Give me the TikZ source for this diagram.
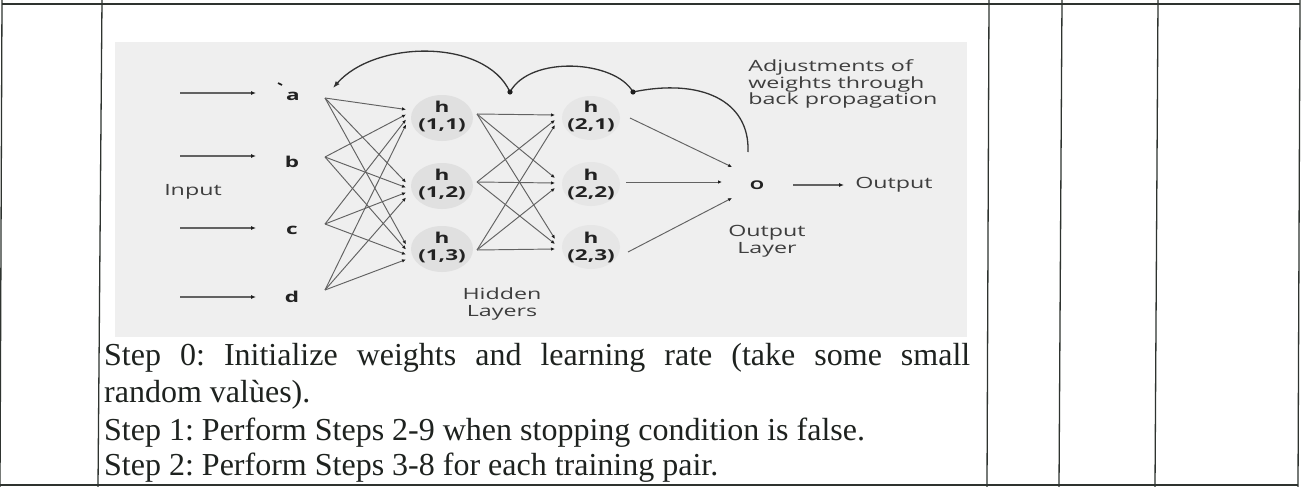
\documentclass[tikz,border=0pt]{standalone}
\usepackage{fontspec}
\setmainfont{Liberation Serif}
\newfontfamily\dsf{Open Sans}
\usetikzlibrary{arrows.meta}
\frenchspacing
\definecolor{bgc}{HTML}{EFEFEF}
\definecolor{circA}{HTML}{E0E0E0}
\definecolor{circB}{HTML}{E6E6E6}
\definecolor{connc}{HTML}{626262}
\definecolor{tipc}{HTML}{1E1E1E}
\definecolor{tblc}{HTML}{2E332F}
\definecolor{stc}{HTML}{1E221F}
\definecolor{dtxt}{HTML}{3E3E3E}
\definecolor{dbtxt}{HTML}{222222}
\definecolor{bpc}{HTML}{333333}
\begin{document}
\begin{tikzpicture}[x=1pt,y=-1pt,
  tbl/.style={draw=tblc, line width=1.3pt},
  conn/.style={draw=connc, line width=0.95pt, -{Latex[length=4pt,width=3.5pt,color=tipc]}},
  inarr/.style={draw=connc, line width=1.1pt, -{Latex[length=5pt,width=4pt,color=tipc]}},
  bp/.style={draw=bpc, line width=1.3pt, -{Latex[length=7pt,width=5pt]}},
  dlab/.style={font=\dsf\fontsize{15.5}{16.5}\selectfont, text=dtxt, inner sep=0pt, xscale=1.5},
  dbold/.style={font=\dsf\bfseries\fontsize{15}{17}\selectfont, text=dbtxt, inner sep=0pt, xscale=1.5},
  steptext/.style={font=\fontsize{32}{37}\selectfont, text=stc, inner sep=0pt, anchor=base west}]
\useasboundingbox (0,0) rectangle (1307,487);
\fill[white] (0,0) rectangle (1307,487);

% figure background
\fill[bgc] (115,42) rectangle (967,337);

% hidden node discs
\foreach \cy in {118,186,249} \fill[circA] (442,\cy) ellipse [x radius=31pt, y radius=23pt];
\foreach \cy in {118,184,247} \fill[circB] (591,\cy) ellipse [x radius=29pt, y radius=22pt];

% input labels
\node[dbold, anchor=base] (a) at (293,100) {a};
\node[dbold, anchor=base] (b) at (292,167) {b};
\node[dbold, anchor=base] (c) at (292,234) {c};
\node[dbold, anchor=base] (d) at (292,302) {d};
\draw[tipc, line width=1.6pt] (278,83) -- (282,85);

% input arrows
\foreach \n/\y in {a/93,b/156,c/228,d/297}{
  \coordinate (it\n) at (180,\y);
  \coordinate (ih\n) at (256,\y);
  \draw[inarr] (it\n) -- (ih\n);
}
\node[dlab] (input) at (193,192) {Input};

% hidden labels
\node[dbold, align=center] (h11) at (442,116) {h\\(1,1)};
\node[dbold, align=center] (h12) at (442,184) {h\\(1,2)};
\node[dbold, align=center] (h13) at (442,247) {h\\(1,3)};
\node[dbold, align=center] (h21) at (591,116) {h\\(2,1)};
\node[dbold, align=center] (h22) at (591,184) {h\\(2,2)};
\node[dbold, align=center] (h23) at (591,247) {h\\(2,3)};
\node[dlab, align=center] (hid) at (502,304) {Hidden\\Layers};

% input -> hidden 1
\foreach \n/\y in {a/98,b/157,c/224,d/290} \coordinate (s\n) at (325,\y);
\foreach \k/\cy in {1/117,2/190,3/252}{
  \foreach \s/\i in {a/0,b/1,c/2,d/3}{
    \pgfmathsetmacro{\py}{\cy+(\i-1.5)*5}
    \coordinate (p\k\s) at (406,\py);
  }
}
\foreach \k in {1,2,3}{\foreach \s in {a,b,c,d}{\draw[conn] (s\s) -- (p\k\s);}}

% hidden 1 -> hidden 2
\foreach \k/\y in {1/114,2/182,3/250} \coordinate (o1\k) at (477,\y);
\foreach \m/\cy in {1/120,2/183,3/244}{
  \foreach \k in {1,2,3}{
    \pgfmathsetmacro{\py}{\cy+(\k-2)*5}
    \coordinate (q\m\k) at (555,\py);
  }
}
\foreach \m in {1,2,3}{\foreach \k in {1,2,3}{\draw[conn] (o1\k) -- (q\m\k);}}

% hidden 2 -> output
\coordinate (o21) at (630,118);
\coordinate (o22) at (626,182);
\coordinate (o23) at (628,252);
\coordinate (r1) at (732,167);
\coordinate (r2) at (722,182);
\coordinate (r3) at (732,198);
\foreach \m in {1,2,3} \draw[conn] (o2\m) -- (r\m);

\node[font=\dsf\bfseries\fontsize{12}{14}\selectfont, text=dbtxt, inner sep=0pt, xscale=1.5] (O) at (757,185) {O};
\coordinate (ot) at (793,185);
\coordinate (oh) at (844,185);
\draw[inarr] (ot) -- (oh);
\node[dlab, anchor=west] (out) at (855,185) {Output};
\node[dlab, align=center] (outl) at (767,241) {Output\\Layer};
\node[dlab, align=left, anchor=west] (adj) at (748,84) {Adjustments of\\weights through\\back propagation};

% back propagation curve
\coordinate (bpO) at (748,152);
\coordinate (bp1) at (633,92);
\coordinate (bp2) at (510,92);
\coordinate (bpA) at (333,88);
\draw[bp] (bpO) .. controls (750,100) and (700,78) .. (bp1)
  .. controls (615,60) and (530,55) .. (bp2)
  .. controls (485,38) and (375,40) .. (bpA);
\fill[tipc] (bp1) circle (2.6pt);
\fill[tipc] (bp2) circle (2.6pt);

% step text
\node[steptext] (st0) at (104,365) {\makebox[866pt][s]{Step 0: Initialize weights and learning rate (take some small}};
\node[steptext] (st0b) at (104,402) {random valùes).};
\node[steptext] (st1) at (104,440) {Step 1: Perform Steps 2-9 when stopping condition is false.};
\node[steptext] (st2) at (104,475) {Step 2: Perform Steps 3-8 for each training pair.};

% table rules
\draw[tbl] (2,4) -- (1300,4);
\draw[tbl] (0,485) -- (1298,485);
\draw[tbl] (2,0) -- (0,487);
\draw[tbl] (102,0) -- (98,487);
\draw[tbl] (989,0) -- (987,487);
\draw[tbl] (1062,0) -- (1059,487);
\draw[tbl] (1158,0) -- (1155,487);
\draw[tbl] (1300,0) -- (1298,487);
\end{tikzpicture}
\end{document}
